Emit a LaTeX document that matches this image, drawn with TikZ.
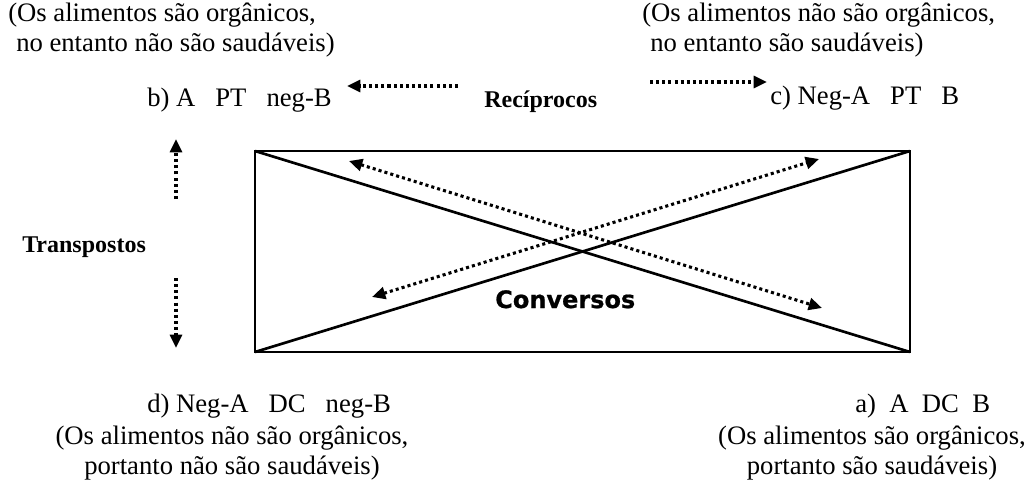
\documentclass[tikz,border=0pt]{standalone}
\usepackage{fontspec}
\setmainfont{Liberation Serif}
\newfontfamily\convfont[FakeBold=0.8]{DejaVu Sans Bold}
\usetikzlibrary{arrows.meta}

\begin{document}
\begin{tikzpicture}[x=0.75pt,y=-0.75pt,
  lbl/.style={inner sep=0pt, anchor=base west, font=\fontsize{20}{22}\selectfont},
  note/.style={inner sep=0pt, anchor=north west, align=left, font=\fontsize{20}{22}\selectfont},
  tag/.style={inner sep=0pt, anchor=base west, font=\fontsize{18}{20}\selectfont\bfseries},
  dots/.style={line width=2.3pt, dash pattern=on 2.3pt off 2.3pt, -{Triangle[length=10pt,width=9pt]}},
  frame/.style={line width=2pt}]
\useasboundingbox (0,0) rectangle (1029,487);

% the four propositions
\node[lbl] (b) at (147,106) {b)~A~~~PT~~~neg-B};
\node[lbl] (c) at (770,104) {c)~Neg-A~~~PT~~~B};
\node[lbl] (d) at (147,412) {d)~Neg-A~~~DC~~~neg-B};
\node[lbl] (a) at (855,412) {a)~~A~~DC~~B};

% readings
\node[note] (nb) at (8,3) {(Os alimentos são orgânicos,\\\hspace*{0.3em}no entanto não são saudáveis)};
\node[note] (nc) at (642,3) {(Os alimentos não são orgânicos,\\\hspace*{0.3em}no entanto são saudáveis)};
\node[note, align=center, anchor=north] (nd) at (232,426) {(Os alimentos não são orgânicos,\\portanto não são saudáveis)};
\node[note, align=center, anchor=north] (na) at (872,426) {(Os alimentos são orgânicos,\\portanto são saudáveis)};

% relation names
\node[tag] (rec) at (484,107) {Recíprocos};
\node[tag] (tra) at (22,252) {Transpostos};
\node[inner sep=0pt, anchor=base west, font=\convfont\fontsize{18}{20}\selectfont] (con) at (495,308) {Conversos};

% square
\coordinate (nw) at (255,151);
\coordinate (ne) at (910,151);
\coordinate (se) at (910,352);
\coordinate (sw) at (255,352);
\draw[frame] (nw) -- (ne) -- (se) -- (sw) -- cycle;
\draw[frame] (nw) -- (se);
\draw[frame] (sw) -- (ne);

% arrows
\coordinate (r1) at (458,86);
\coordinate (r2) at (347,86);
\coordinate (r3) at (650,82);
\coordinate (r4) at (767,82);
\coordinate (t1) at (176,199);
\coordinate (t2) at (176,139);
\coordinate (t3) at (176,278);
\coordinate (t4) at (176,348);
\coordinate (k1) at (349,161);
\coordinate (k2) at (822,308);
\coordinate (k3) at (372,297);
\coordinate (k4) at (819,159);
\draw[dots] (r1) -- (r2);
\draw[dots] (r3) -- (r4);
\draw[dots] (t1) -- (t2);
\draw[dots] (t3) -- (t4);
\draw[dots, {Triangle[length=10pt,width=9pt]}-{Triangle[length=10pt,width=9pt]}] (k1) -- (k2);
\draw[dots, {Triangle[length=10pt,width=9pt]}-{Triangle[length=10pt,width=9pt]}] (k3) -- (k4);
\end{tikzpicture}
\end{document}
